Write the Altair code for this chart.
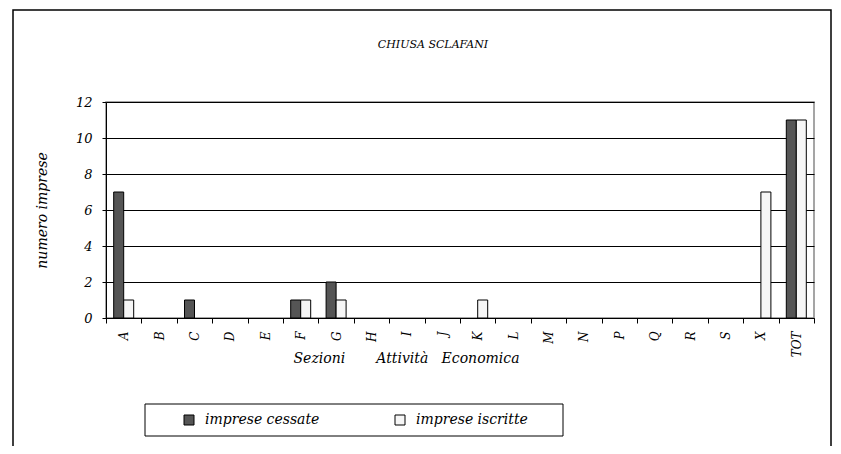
import altair as alt
import pandas as pd

sections = ["A", "B", "C", "D", "E", "F", "G", "H", "I", "J", "K", "L", "M", "N",
            "P", "Q", "R", "S", "X", "TOT"]
cessate = [7, 0, 1, 0, 0, 1, 2, 0, 0, 0, 0, 0, 0, 0, 0, 0, 0, 0, 0, 11]
iscritte = [1, 0, 0, 0, 0, 1, 1, 0, 0, 0, 1, 0, 0, 0, 0, 0, 0, 0, 7, 11]
series = ["imprese cessate", "imprese iscritte"]
colors = ["#555555", "#f6f6f6"]
chart_title = "CHIUSA SCLAFANI"
y_title = "numero imprese"
x_title = "Sezioni" + "\u00a0" * 7 + "Attività" + "\u00a0" * 3 + "Economica"

rows = []
for s, c, i in zip(sections, cessate, iscritte):
    rows.append({"sezione": s, "serie": series[0], "valore": c})
    rows.append({"sezione": s, "serie": series[1], "valore": i})
df = pd.DataFrame(rows)

FONT = "DejaVu Serif"

bars = alt.Chart(df).mark_bar(stroke="black", strokeWidth=1).encode(
    x=alt.X("sezione:N", sort=sections,
            scale=alt.Scale(domain=sections, paddingInner=0, paddingOuter=0),
            axis=alt.Axis(title=x_title, labelAngle=270, tickBand="extent",
                          tickSize=5, tickColor="black", domainColor="black",
                          labelFont=FONT, labelFontStyle="italic", labelFontSize=12,
                          labelColor="black", labelPadding=8,
                          titleFont=FONT, titleFontStyle="italic", titleFontSize=14,
                          titleFontWeight="normal", titleColor="black",
                          titleX=300, titleY=40, titleAlign="center",
                          titleBaseline="middle")),
    xOffset=alt.XOffset("serie:N", sort=series,
                        scale=alt.Scale(domain=series, paddingOuter=0.77, paddingInner=0)),
    y=alt.Y("valore:Q",
            scale=alt.Scale(domain=[0, 12], nice=False),
            axis=alt.Axis(title=y_title, values=[0, 2, 4, 6, 8, 10, 12],
                          grid=True, gridColor="black", gridWidth=1,
                          tickSize=4, tickColor="black", domainColor="black",
                          labelFont=FONT, labelFontStyle="italic", labelFontSize=13,
                          labelColor="black", labelPadding=10,
                          titleFont=FONT, titleFontStyle="italic", titleFontSize=14,
                          titleFontWeight="normal", titleColor="black",
                          titleX=-64, titleY=108, titleAngle=270,
                          titleAlign="center", titleBaseline="middle")),
    fill=alt.Fill("serie:N", sort=series,
                  scale=alt.Scale(domain=series, range=colors),
                  legend=alt.Legend(title=None, orient="none", direction="horizontal",
                                    legendX=76, legendY=311, padding=0,
                                    symbolType="square", symbolSize=100,
                                    symbolStrokeColor="black", symbolStrokeWidth=1,
                                    symbolOpacity=1,
                                    labelFont=FONT, labelFontStyle="italic",
                                    labelFontSize=14, labelColor="black",
                                    labelOffset=9, columnPadding=73)),
).transform_filter(alt.datum.valore > 0)

one = pd.DataFrame({"t": [chart_title]})

frame = alt.Chart(one).mark_rect(fill=None, stroke="black", strokeWidth=1.5).encode(
    x=alt.value(-93), x2=alt.value(725), y=alt.value(-92), y2=alt.value(400)
)

legend_box = alt.Chart(one).mark_rect(fill="white", stroke="black", strokeWidth=1).encode(
    x=alt.value(39), x2=alt.value(457), y=alt.value(302), y2=alt.value(334)
)

title = alt.Chart(one).mark_text(font=FONT, fontStyle="italic", fontSize=11,
                                 align="center", baseline="middle", color="black").encode(
    x=alt.value(327), y=alt.value(-57), text="t:N"
)

chart = alt.layer(frame, legend_box, title, bars).properties(
    width=708, height=216,
    padding={"left": 98, "top": 94, "right": 19, "bottom": 128},
    autosize=alt.AutoSizeParams(type="none"),
).configure_view(stroke="#888888", strokeWidth=1.5)

chart.save("out.html", embed_options={"renderer": "svg", "actions": False})
